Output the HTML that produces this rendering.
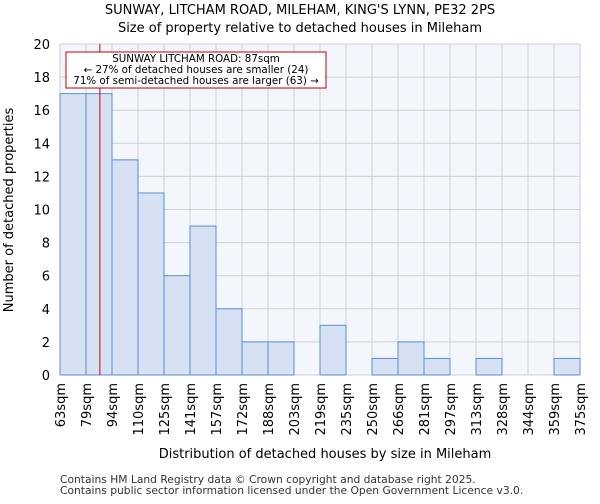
<!DOCTYPE html>
<html><head><meta charset="utf-8"><style>
body{margin:0;background:#fff;font-family:"DejaVu Sans","Liberation Sans",sans-serif}
</style></head><body>
<svg width="600" height="500" xmlns="http://www.w3.org/2000/svg" font-family="DejaVu Sans, Liberation Sans, sans-serif">
<text x="300" y="14" text-anchor="middle" font-size="13">SUNWAY, LITCHAM ROAD, MILEHAM, KING'S LYNN, PE32 2PS</text>
<text x="300" y="32" text-anchor="middle" font-size="13">Size of property relative to detached houses in Mileham</text>
<g id="plot"></g>
<text x="325" y="458" text-anchor="middle" font-size="13">Distribution of detached houses by size in Mileham</text>
<text transform="translate(13,210) rotate(-90)" text-anchor="middle" font-size="13">Number of detached properties</text>
<text x="60" y="483" font-size="10.7" fill="#333">Contains HM Land Registry data © Crown copyright and database right 2025.</text>
<text x="60" y="494" font-size="10.7" fill="#333">Contains public sector information licensed under the Open Government Licence v3.0.</text>
</svg>
<script>
const labels=["63sqm","79sqm","94sqm","110sqm","125sqm","141sqm","157sqm","172sqm","188sqm","203sqm","219sqm","235sqm","250sqm","266sqm","281sqm","297sqm","313sqm","328sqm","344sqm","359sqm","375sqm"];
const counts=[17,17,13,11,6,9,4,2,2,0,3,0,1,2,1,0,1,0,0,1];
const yTicks=[0,2,4,6,8,10,12,14,16,18,20];
const edges=[63,79,94,110,125,141,157,172,188,203,219,235,250,266,281,297,313,328,344,359,375];
const markerValue=87;
const L=60,R=580,T=44,B=375,yMax=20;
const ns="http://www.w3.org/2000/svg";
const g=document.getElementById('plot');
const bw=(R-L)/counts.length;
const xIdx=i=>L+i*bw;
const y=v=>B-(v/yMax)*(B-T);
function mk(t,a){const e=document.createElementNS(ns,t);for(const k in a)e.setAttribute(k,a[k]);g.appendChild(e);return e;}
const bg=mk('rect',{x:L,y:T,width:R-L,height:B-T,fill:'#f3f6fd'});


yTicks.forEach(v=>{
 const l=mk('line',{x1:L,x2:R,y1:y(v),y2:y(v),stroke:'#d0d0d0','stroke-width':1});
 
 
 const t=mk('text',{x:L-10,y:y(v)+5,'text-anchor':'end','font-size':13});
 t.textContent=v;
 
 
});
labels.forEach((s,i)=>{
 const x=xIdx(i);
 const l=mk('line',{x1:x,x2:x,y1:T,y2:B,stroke:'#d0d0d0','stroke-width':1});
 
 
 const t=mk('text',{transform:`translate(${x+5},${B+8}) rotate(-90)`,'text-anchor':'end','font-size':13});
 t.textContent=s;
 
 
});
counts.forEach((c,i)=>{
 if(c<=0)return;
 const r=mk('rect',{x:xIdx(i),y:y(c),width:bw,height:B-y(c),fill:'#d6e1f3',stroke:'#5b8fd4','stroke-width':1});
 
 
});
let k=0;while(k<edges.length-2&&markerValue>edges[k+1])k++;
const mx=xIdx(k)+bw*(markerValue-edges[k])/(edges[k+1]-edges[k]);
const ml=mk('line',{x1:mx,x2:mx,y1:T,y2:B,stroke:'#d00000','stroke-width':1});


const box=mk('rect',{x:66,y:52,width:260,height:36,fill:'#fff',stroke:'#c00000','stroke-width':1});


["SUNWAY LITCHAM ROAD: 87sqm","← 27% of detached houses are smaller (24)","71% of semi-detached houses are larger (63) →"].forEach((s,i)=>{
 const t=mk('text',{x:196,y:62+i*11,'text-anchor':'middle','font-size':10.3});
 t.textContent=s;
 
 
});
</script>
</body></html>
